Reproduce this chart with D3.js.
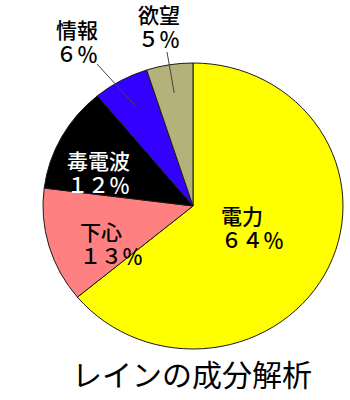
<!DOCTYPE html>
<html>
<head>
<meta charset="utf-8">
<script src="https://cdn.jsdelivr.net/npm/d3@7"></script>
<style>
  html, body { margin: 0; padding: 0; background: #fff; }
  svg { display: block; }
  text { font-family: "Noto Sans CJK JP", "Noto Sans", sans-serif; }
</style>
</head>
<body>
<svg id="chart" width="350" height="400"></svg>
<script>
// Components of "rain", clockwise from 12 o'clock
const categories = ["電力", "下心", "毒電波", "情報", "欲望"];
const values = [64, 13, 12, 6, 5];
const valueLabels = ["６４％", "１３％", "１２％", "６％", "５％"];
const colors = ["#FFFF00", "#FF8080", "#000000", "#3300FF", "#B4B27A"];
const labelColors = ["#000", "#000", "#fff", "#000", "#000"];
const title = "レインの成分解析";

// label anchors (left edge of text block, baseline of first line)
const labelPos = [[221, 224], [80, 240], [67, 169], [56, 38], [138, 23]];
// outside labels get a leader line starting near the label
const leaderStart = [null, null, null, [97, 64], [167, 52]];

const W = 350, H = 400;
const cx = 193, cy = 206, r = 150, squash = 143 / 150;

const svg = d3.select("#chart");
svg.append("rect").attr("width", W).attr("height", H).attr("fill", "#fff");

const data = categories.map((c, i) => ({ name: c, value: values[i], i }));
const pie = d3.pie().sort(null).value(d => d.value);
const arcs = pie(data);
const arc = d3.arc().innerRadius(0).outerRadius(r);

const g = svg.append("g")
  .attr("transform", `translate(${cx},${cy}) scale(1,${squash})`);

g.selectAll("path")
  .data(arcs)
  .join("path")
  .attr("d", arc)
  .attr("fill", d => colors[d.data.i])
  .attr("stroke", "#1a1a1a")
  .attr("stroke-width", 1)
  .attr("vector-effect", "non-scaling-stroke")
  .attr("stroke-linejoin", "round");

// leader lines for the two thin slices
const inner = d3.arc().innerRadius(r * 0.8).outerRadius(r * 0.8);
arcs.forEach(d => {
  const s = leaderStart[d.data.i];
  if (!s) return;
  const [px, py] = inner.centroid(d);
  svg.append("line")
    .attr("x1", s[0]).attr("y1", s[1])
    .attr("x2", cx + px).attr("y2", cy + py * squash)
    .attr("stroke", "#444")
    .attr("stroke-width", 1);
});

// two-line data labels: category, then percentage
arcs.forEach(d => {
  const i = d.data.i;
  const [lx, ly] = labelPos[i];
  const t = svg.append("text")
    .attr("x", lx).attr("y", ly)
    .attr("font-size", 21)
    .attr("font-weight", 500)
    .attr("fill", labelColors[i]);
  t.append("tspan").attr("x", lx).text(d.data.name);
  t.append("tspan").attr("x", lx).attr("dy", 24).text(valueLabels[i]);
});

svg.append("text")
  .attr("x", 192).attr("y", 386)
  .attr("text-anchor", "middle")
  .attr("font-size", 30)
  .attr("fill", "#000")
  .text(title);
</script>
</body>
</html>
